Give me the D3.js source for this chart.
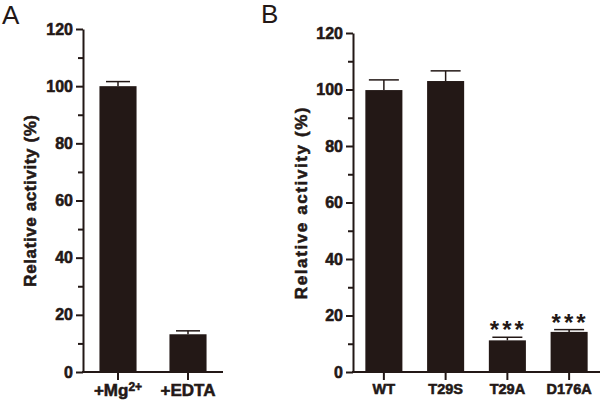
<!DOCTYPE html>
<html><head><meta charset="utf-8">
<script src="https://cdn.jsdelivr.net/npm/d3@7"></script>
<style>body{margin:0;background:#fff}svg{display:block}text{font-family:Arial,"Liberation Sans",sans-serif}</style>
</head><body>
<svg id="c" width="603" height="403"></svg>
<script>
const catsA = ["+Mg", "+EDTA"];
const valsA = [100, 13.2];
const errsA = [1.6, 1.2];
const catsB = ["WT", "T29S", "T29A", "D176A"];
const valsB = [99.8, 103, 11.2, 14.2];
const errsB = [3.6, 3.6, 1.1, 0.8];
const sigB = ["", "", "***", "***"];
const yTicks = [0, 20, 40, 60, 80, 100, 120];
const yMinor = [10, 30, 50, 70, 90, 110];

const ink = "#231816";
const svg = d3.select("#c");

function heavy(sel) { sel.attr("stroke", ink).attr("stroke-width", 0.55).attr("paint-order", "stroke"); }

function panel(opts) {
  const g = svg.append("g");
  const y = d3.scaleLinear().domain([0, 120]).range([372, opts.top]);
  const x = d3.scaleBand().domain(opts.cats).range([opts.left, opts.right]).paddingInner(opts.pad).paddingOuter(opts.pad / 2);
  g.selectAll("rect.bar").data(opts.vals).enter().append("rect")
    .attr("x", (d, i) => x(opts.cats[i])).attr("width", x.bandwidth())
    .attr("y", d => y(d)).attr("height", d => y(0) - y(d)).attr("fill", ink);
  const cap = opts.cap;
  opts.vals.forEach((v, i) => {
    const cx = x(opts.cats[i]) + x.bandwidth() / 2;
    const top = y(v + opts.errs[i]);
    g.append("line").attr("x1", cx).attr("x2", cx).attr("y1", y(v)).attr("y2", top).attr("stroke", ink).attr("stroke-width", 1.5);
    g.append("line").attr("x1", cx - cap / 2).attr("x2", cx + cap / 2).attr("y1", top).attr("y2", top).attr("stroke", ink).attr("stroke-width", 1.5);
  });
  const ya = d3.axisLeft(y).tickValues(yTicks).tickSize(7).tickPadding(3).tickSizeOuter(0);
  const yg = g.append("g").attr("transform", `translate(${opts.left},0)`).call(ya);
  yg.select(".domain").attr("stroke", ink).attr("stroke-width", 2);
  yg.selectAll(".tick line").attr("stroke", ink).attr("stroke-width", 2);
  yg.selectAll(".tick text").attr("fill", ink).attr("font-size", 16).attr("font-weight", "bold").call(heavy);
  g.append("g").attr("transform", `translate(${opts.left},0)`)
    .call(d3.axisLeft(y).tickValues(yMinor).tickSize(5).tickFormat("").tickSizeOuter(0))
    .call(s => { s.select(".domain").remove(); s.selectAll(".tick line").attr("stroke", ink).attr("stroke-width", 2); });
  const xa = d3.axisBottom(x).tickSize(8).tickPadding(4).tickSizeOuter(0);
  const xg = g.append("g").attr("transform", `translate(0,${y(0)})`).call(xa);
  xg.select(".domain").attr("stroke", ink).attr("stroke-width", 2).attr("d", `M${opts.left - 1},0H${opts.right}`);
  xg.selectAll(".tick line").attr("stroke", ink).attr("stroke-width", 2);
  xg.selectAll(".tick text").attr("fill", ink).attr("font-size", opts.xfs).attr("font-weight", "bold").call(heavy);
  g.append("text").attr("transform", `translate(${opts.labX},${(372 + opts.top) / 2}) rotate(-90)`)
    .attr("text-anchor", "middle").attr("dy", "0.35em")
    .attr("font-size", 17).attr("font-weight", "bold").style("letter-spacing", opts.ls + "px")
    .attr("fill", ink).call(heavy).text("Relative activity (%)");
  g.append("text").attr("x", opts.pX).attr("y", opts.pY).attr("font-size", 26).attr("fill", ink).text(opts.letter);
  return { g, x, y, xg };
}

const A = panel({ cats: catsA, vals: valsA, errs: errsA, left: 83, right: 223, top: 29, pad: 0.47, cap: 24, xfs: 17, labX: 30, ls: 0.6, letter: "A", pX: 2, pY: 24 });
A.xg.selectAll(".tick text").filter(d => d === "+Mg").text(null)
  .call(t => { t.append("tspan").text("+Mg"); t.append("tspan").attr("dy", "-0.45em").attr("font-size", 12).text("2+"); });

const B = panel({ cats: catsB, vals: valsB, errs: errsB, left: 353, right: 600, top: 33, pad: 0.40, cap: 30, xfs: 14.5, labX: 301, ls: 1.6, letter: "B", pX: 261, pY: 23 });
B.g.selectAll("text.sig").data(sigB).enter().append("text")
  .attr("x", (d, i) => B.x(catsB[i]) + B.x.bandwidth() / 2 + 1)
  .attr("y", (d, i) => B.y(valsB[i] + errsB[i]) + 1)
  .attr("text-anchor", "middle").attr("font-size", 24).attr("font-weight", "bold").style("letter-spacing", "3px")
  .attr("fill", ink).text(d => d);
</script>
</body></html>
